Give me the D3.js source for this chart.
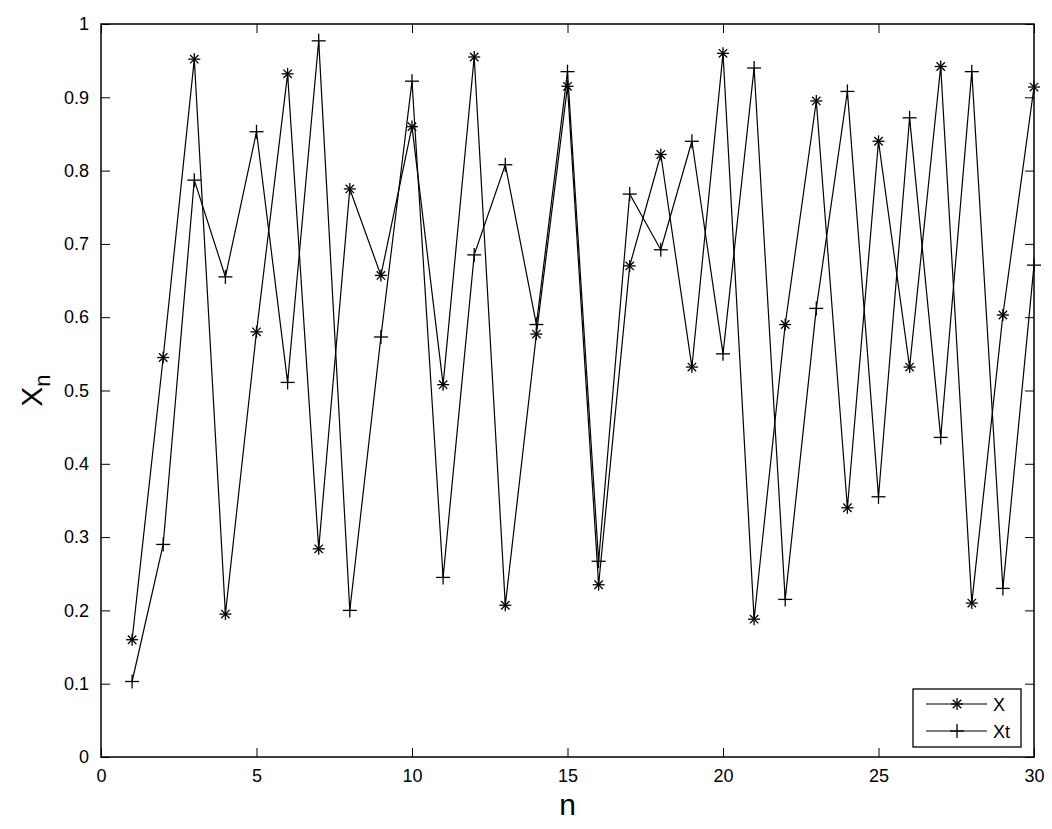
<!DOCTYPE html><html><head><meta charset="utf-8"><script src="https://cdn.jsdelivr.net/npm/d3@7"></script>
<style>body{margin:0;background:#fff}svg{font-family:"Liberation Sans",Arial,sans-serif}</style></head><body>
<svg id="c" width="1052" height="829"></svg>
<script>
const n = d3.range(1,31);
const xSeries = [0.16,0.545,0.952,0.195,0.58,0.932,0.284,0.775,0.657,0.86,0.508,0.955,0.207,0.577,0.915,0.235,0.67,0.822,0.532,0.96,0.188,0.59,0.895,0.34,0.84,0.532,0.942,0.21,0.603,0.914];
const xtSeries = [0.103,0.29,0.787,0.655,0.853,0.511,0.977,0.2,0.573,0.922,0.245,0.685,0.808,0.59,0.935,0.267,0.768,0.692,0.84,0.55,0.94,0.215,0.612,0.908,0.355,0.872,0.436,0.935,0.23,0.671];
const xTicks = [0,5,10,15,20,25,30];
const yTicks = d3.range(0,11).map(i=>i/10);
const L=101,R=1034,T=24,B=757;
const svg=d3.select("#c");
const x=d3.scaleLinear().domain([0,30]).range([L,R]);
const y=d3.scaleLinear().domain([0,1]).range([B,T]);
const fmt=d=>d===0||d===1?String(d):d.toFixed(1);
svg.append("g").attr("transform",`translate(0,${B})`).call(d3.axisBottom(x).tickValues(xTicks).tickSizeInner(-9).tickSizeOuter(0).tickPadding(12)).call(g=>{g.select(".domain").remove();g.selectAll("text").attr("font-size",18).attr("fill","#000");});
svg.append("g").attr("transform",`translate(0,${T})`).call(d3.axisTop(x).tickValues(xTicks).tickSizeInner(-9).tickSizeOuter(0).tickFormat("")).call(g=>g.select(".domain").remove());
svg.append("g").attr("transform",`translate(${L},0)`).call(d3.axisLeft(y).tickValues(yTicks).tickFormat(fmt).tickSizeInner(-9).tickSizeOuter(0).tickPadding(12)).call(g=>{g.select(".domain").remove();g.selectAll("text").attr("font-size",18).attr("fill","#000");});
svg.append("g").attr("transform",`translate(${R},0)`).call(d3.axisRight(y).tickValues(yTicks).tickSizeInner(-9).tickSizeOuter(0).tickFormat("")).call(g=>g.select(".domain").remove());
svg.append("rect").attr("x",L).attr("y",T).attr("width",R-L).attr("height",B-T).attr("fill","none").attr("stroke","#000").attr("stroke-width",1.5);
const line=d3.line().x((d,i)=>x(n[i])).y(d=>y(d));
function star(g,cx,cy,s){const p=[[-s,0,s,0],[0,-s,0,s],[-s*.7,-s*.7,s*.7,s*.7],[-s*.7,s*.7,s*.7,-s*.7]];p.forEach(a=>g.append("line").attr("x1",cx+a[0]).attr("y1",cy+a[1]).attr("x2",cx+a[2]).attr("y2",cy+a[3]).attr("stroke","#000").attr("stroke-width",1.3));}
function plus(g,cx,cy,s){[[-s,0,s,0],[0,-s,0,s]].forEach(a=>g.append("line").attr("x1",cx+a[0]).attr("y1",cy+a[1]).attr("x2",cx+a[2]).attr("y2",cy+a[3]).attr("stroke","#000").attr("stroke-width",1.3));}
const g=svg.append("g");
g.append("path").attr("d",line(xSeries)).attr("fill","none").attr("stroke","#000").attr("stroke-width",1.2);
g.append("path").attr("d",line(xtSeries)).attr("fill","none").attr("stroke","#000").attr("stroke-width",1.2);
xSeries.forEach((d,i)=>star(g,x(n[i]),y(d),6));
xtSeries.forEach((d,i)=>plus(g,x(n[i]),y(d),7));
// legend
const lg=svg.append("g");
lg.append("rect").attr("x",913).attr("y",689).attr("width",108).attr("height",58).attr("fill","#fff").attr("stroke","#000").attr("stroke-width",1.3);
[["X",star,704],["Xt",plus,731]].forEach(([t,f,yy])=>{lg.append("line").attr("x1",926).attr("x2",987).attr("y1",yy).attr("y2",yy).attr("stroke","#000").attr("stroke-width",1.2);f(lg,957,yy,t==="X"?6:7);lg.append("text").attr("x",993).attr("y",yy+7).attr("font-size",18).text(t);});
svg.append("text").attr("x",(L+R)/2).attr("y",815).attr("text-anchor","middle").attr("font-size",30).text("n");
const yl=svg.append("text").attr("transform",`translate(42,${(T+B)/2}) rotate(-90)`).attr("text-anchor","middle").attr("font-size",30);
yl.append("tspan").text("X");yl.append("tspan").attr("font-size",22).attr("dy",8).text("n");
</script></body></html>
